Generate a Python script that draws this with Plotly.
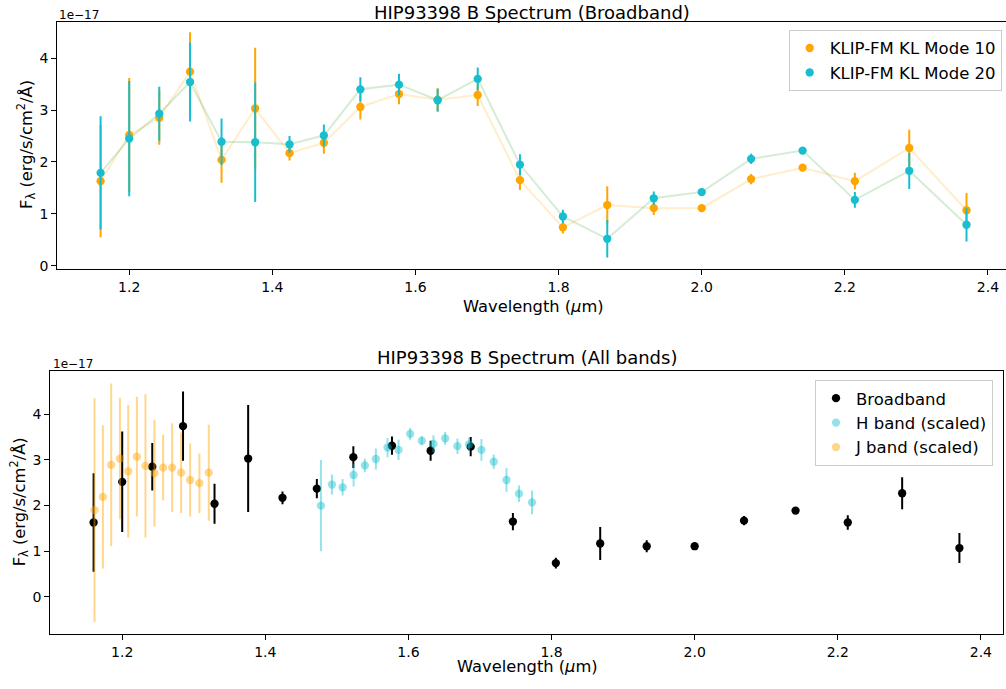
import plotly.graph_objects as go

# ---------------- data (units of 1e-17 erg/s/cm^2/Å) ----------------
wavelengths = [1.160, 1.200, 1.242, 1.285, 1.329, 1.376, 1.424, 1.472, 1.523, 1.577, 1.631,
               1.687, 1.746, 1.806, 1.868, 1.933, 2.000, 2.069, 2.141, 2.214, 2.290, 2.370]
kl10_flux = [1.63, 2.52, 2.85, 3.74, 2.04, 3.03, 2.17, 2.37, 3.06, 3.31, 3.20,
             3.29, 1.65, 0.74, 1.17, 1.11, 1.11, 1.67, 1.89, 1.63, 2.27, 1.07]
kl10_err = [1.08, 1.10, 0.52, 0.76, 0.44, 1.17, 0.14, 0.21, 0.24, 0.20, 0.22,
            0.21, 0.19, 0.12, 0.36, 0.13, 0.04, 0.10, 0.04, 0.16, 0.35, 0.33]
kl20_flux = [1.79, 2.45, 2.93, 3.54, 2.39, 2.38, 2.34, 2.51, 3.40, 3.49, 3.19,
             3.60, 1.95, 0.95, 0.52, 1.30, 1.42, 2.06, 2.22, 1.27, 1.83, 0.79]
kl20_err = [1.09, 1.11, 0.52, 0.76, 0.45, 1.15, 0.16, 0.21, 0.23, 0.21, 0.22,
            0.22, 0.20, 0.13, 0.36, 0.13, 0.04, 0.10, 0.04, 0.15, 0.35, 0.32]

# broadband in the lower panel is the KL mode 10 spectrum
broad_flux = kl10_flux
broad_err = kl10_err

h_wl = [1.4777, 1.4931, 1.5080, 1.5234, 1.5391, 1.5545, 1.5708, 1.5862, 1.6024, 1.6187,
        1.6350, 1.6513, 1.6685, 1.6847, 1.7020, 1.7192, 1.7370, 1.7545, 1.7727]
h_flux = [2.00, 2.46, 2.40, 2.67, 2.88, 3.02, 3.27, 3.22, 3.57, 3.42,
          3.35, 3.47, 3.30, 3.34, 3.22, 2.96, 2.56, 2.26, 2.07]
h_err = [1.00, 0.22, 0.18, 0.25, 0.15, 0.23, 0.21, 0.22, 0.13, 0.10,
         0.19, 0.14, 0.17, 0.15, 0.24, 0.16, 0.26, 0.18, 0.26]

j_wl = [1.1613, 1.1730, 1.1846, 1.1968, 1.2084, 1.2205, 1.2325, 1.2451, 1.2572, 1.2698,
        1.2823, 1.2949, 1.3079, 1.3210]
j_flux = [1.90, 2.19, 2.89, 3.03, 2.75, 3.07, 2.87, 2.71, 2.83, 2.83, 2.72, 2.56, 2.49, 2.72]
j_err = [2.45, 1.57, 1.78, 1.33, 1.45, 1.31, 1.57, 1.17, 0.72, 0.97, 0.88, 0.80, 0.65, 1.05]

x_ticks = [1.2, 1.4, 1.6, 1.8, 2.0, 2.2, 2.4]
x_ticktext = ["1.2", "1.4", "1.6", "1.8", "2.0", "2.2", "2.4"]
y_ticks = [0, 1, 2, 3, 4]

# ---------------- styling ----------------
W, H = 1006, 689
FONT = "DejaVu Sans"
ORANGE = "#FFA500"
CYAN = "#17becf"
MS = 8.3

def px_x(p):
    return p / W

def px_y(p):
    return 1 - p / H

fig = go.Figure()

# top panel: connecting lines
fig.add_trace(go.Scatter(x=wavelengths, y=kl10_flux, mode="lines",
                         line=dict(color="rgba(255,165,0,0.2)", width=2),
                         showlegend=False, hoverinfo="skip", xaxis="x", yaxis="y"))
fig.add_trace(go.Scatter(x=wavelengths, y=kl20_flux, mode="lines",
                         line=dict(color="rgba(44,160,44,0.2)", width=2),
                         showlegend=False, hoverinfo="skip", xaxis="x", yaxis="y"))
fig.add_trace(go.Scatter(x=wavelengths, y=kl10_flux, mode="markers", name="KLIP-FM KL Mode 10",
                         marker=dict(color=ORANGE, size=MS, line=dict(width=0)),
                         error_y=dict(type="data", array=kl10_err, color=ORANGE, thickness=2, width=0),
                         xaxis="x", yaxis="y", legend="legend"))
fig.add_trace(go.Scatter(x=wavelengths, y=kl20_flux, mode="markers", name="KLIP-FM KL Mode 20",
                         marker=dict(color=CYAN, size=MS, line=dict(width=0)),
                         error_y=dict(type="data", array=kl20_err, color=CYAN, thickness=2, width=0),
                         xaxis="x", yaxis="y", legend="legend"))

# bottom panel
fig.add_trace(go.Scatter(x=wavelengths, y=broad_flux, mode="markers", name="Broadband",
                         marker=dict(color="black", size=MS, line=dict(width=0)),
                         error_y=dict(type="data", array=broad_err, color="black", thickness=2, width=0),
                         xaxis="x2", yaxis="y2", legend="legend2"))
fig.add_trace(go.Scatter(x=h_wl, y=h_flux, mode="markers", name="H band (scaled)",
                         marker=dict(color="rgba(23,190,207,0.45)", size=MS, line=dict(width=0)),
                         error_y=dict(type="data", array=h_err, color="rgba(23,190,207,0.45)",
                                      thickness=2, width=0),
                         xaxis="x2", yaxis="y2", legend="legend2"))
fig.add_trace(go.Scatter(x=j_wl, y=j_flux, mode="markers", name="J band (scaled)",
                         marker=dict(color="rgba(255,165,0,0.45)", size=MS, line=dict(width=0)),
                         error_y=dict(type="data", array=j_err, color="rgba(255,165,0,0.45)",
                                      thickness=2, width=0),
                         xaxis="x2", yaxis="y2", legend="legend2"))

axis_common = dict(showline=True, linecolor="black", linewidth=1, ticks="outside", ticklen=5,
                   tickwidth=1, tickcolor="black", showgrid=False, zeroline=False,
                   tickfont=dict(family=FONT, size=14, color="black"))

# top panel geometry (right edge runs off the picture)
top_l, top_t, top_b = 57.3, 22.0, 270.7
bot_l, bot_r, bot_t, bot_b = 50.3, 1002.7, 374.0, 639.0

fig.update_layout(
    width=W, height=H, autosize=False,
    margin=dict(l=0, r=0, t=0, b=0),
    paper_bgcolor="white", plot_bgcolor="white",
    font=dict(family=FONT, color="black"),
    xaxis=dict(domain=[px_x(top_l), 1.0], range=[1.0995, 2.4252], anchor="y",
               tickvals=x_ticks, ticktext=x_ticktext, mirror=True, **axis_common),
    yaxis=dict(domain=[px_y(top_b), px_y(top_t)], range=[-0.057, 4.70], anchor="x",
               tickvals=y_ticks, mirror=False, **axis_common),
    xaxis2=dict(domain=[px_x(bot_l), px_x(bot_r)], range=[1.0995, 2.4305], anchor="y2",
                tickvals=x_ticks, ticktext=x_ticktext, mirror=True, **axis_common),
    yaxis2=dict(domain=[px_y(bot_b), px_y(bot_t)], range=[-0.82, 4.94], anchor="x2",
                tickvals=y_ticks, mirror=True, **axis_common),
    legend=dict(x=px_x(1001.7), xanchor="right", y=px_y(30), yanchor="top",
                bgcolor="white", bordercolor="#cccccc", borderwidth=1,
                font=dict(family=FONT, size=16.5, color="black"), tracegroupgap=4),
    legend2=dict(x=px_x(993), xanchor="right", y=px_y(382.7), yanchor="top",
                 bgcolor="white", bordercolor="#cccccc", borderwidth=1,
                 font=dict(family=FONT, size=16.5, color="black"), tracegroupgap=4),
    showlegend=True,
)

ann_font = dict(family=FONT, size=16.3, color="black")
annotations = [
    # titles
    dict(text="HIP93398 B Spectrum (Broadband)", x=px_x(532), y=1.0, xref="paper", yref="paper",
         showarrow=False, xanchor="center", yanchor="top", font=dict(family=FONT, size=18, color="black")),
    dict(text="HIP93398 B Spectrum (All bands)", x=px_x(527), y=px_y(360), xref="paper", yref="paper",
         showarrow=False, xanchor="center", yanchor="middle", font=dict(family=FONT, size=18, color="black")),
    # x axis titles
    dict(text="Wavelength (<i>μ</i>m)", x=px_x(533), y=px_y(309), xref="paper", yref="paper",
         showarrow=False, xanchor="center", yanchor="middle", font=ann_font),
    dict(text="Wavelength (<i>μ</i>m)", x=px_x(527), y=px_y(671.5), xref="paper", yref="paper",
         showarrow=False, xanchor="center", yanchor="middle", font=ann_font),
    # y axis titles
    dict(text="F<sub>λ</sub> (erg/s/cm<sup>2</sup>/Å)", x=px_x(26), y=px_y(146), xref="paper", yref="paper",
         showarrow=False, xanchor="center", yanchor="middle", textangle=-90, font=ann_font),
    dict(text="F<sub>λ</sub> (erg/s/cm<sup>2</sup>/Å)", x=px_x(19), y=px_y(506), xref="paper", yref="paper",
         showarrow=False, xanchor="center", yanchor="middle", textangle=-90, font=ann_font),
    # offset text
    dict(text="1e−17", x=px_x(57), y=px_y(15), xref="paper", yref="paper",
         showarrow=False, xanchor="left", yanchor="middle", font=dict(family=FONT, size=12, color="black")),
    dict(text="1e−17", x=px_x(51), y=px_y(367), xref="paper", yref="paper",
         showarrow=False, xanchor="left", yanchor="middle", font=dict(family=FONT, size=12, color="black")),
]
fig.update_layout(annotations=annotations)

fig.write_html("out.html")
